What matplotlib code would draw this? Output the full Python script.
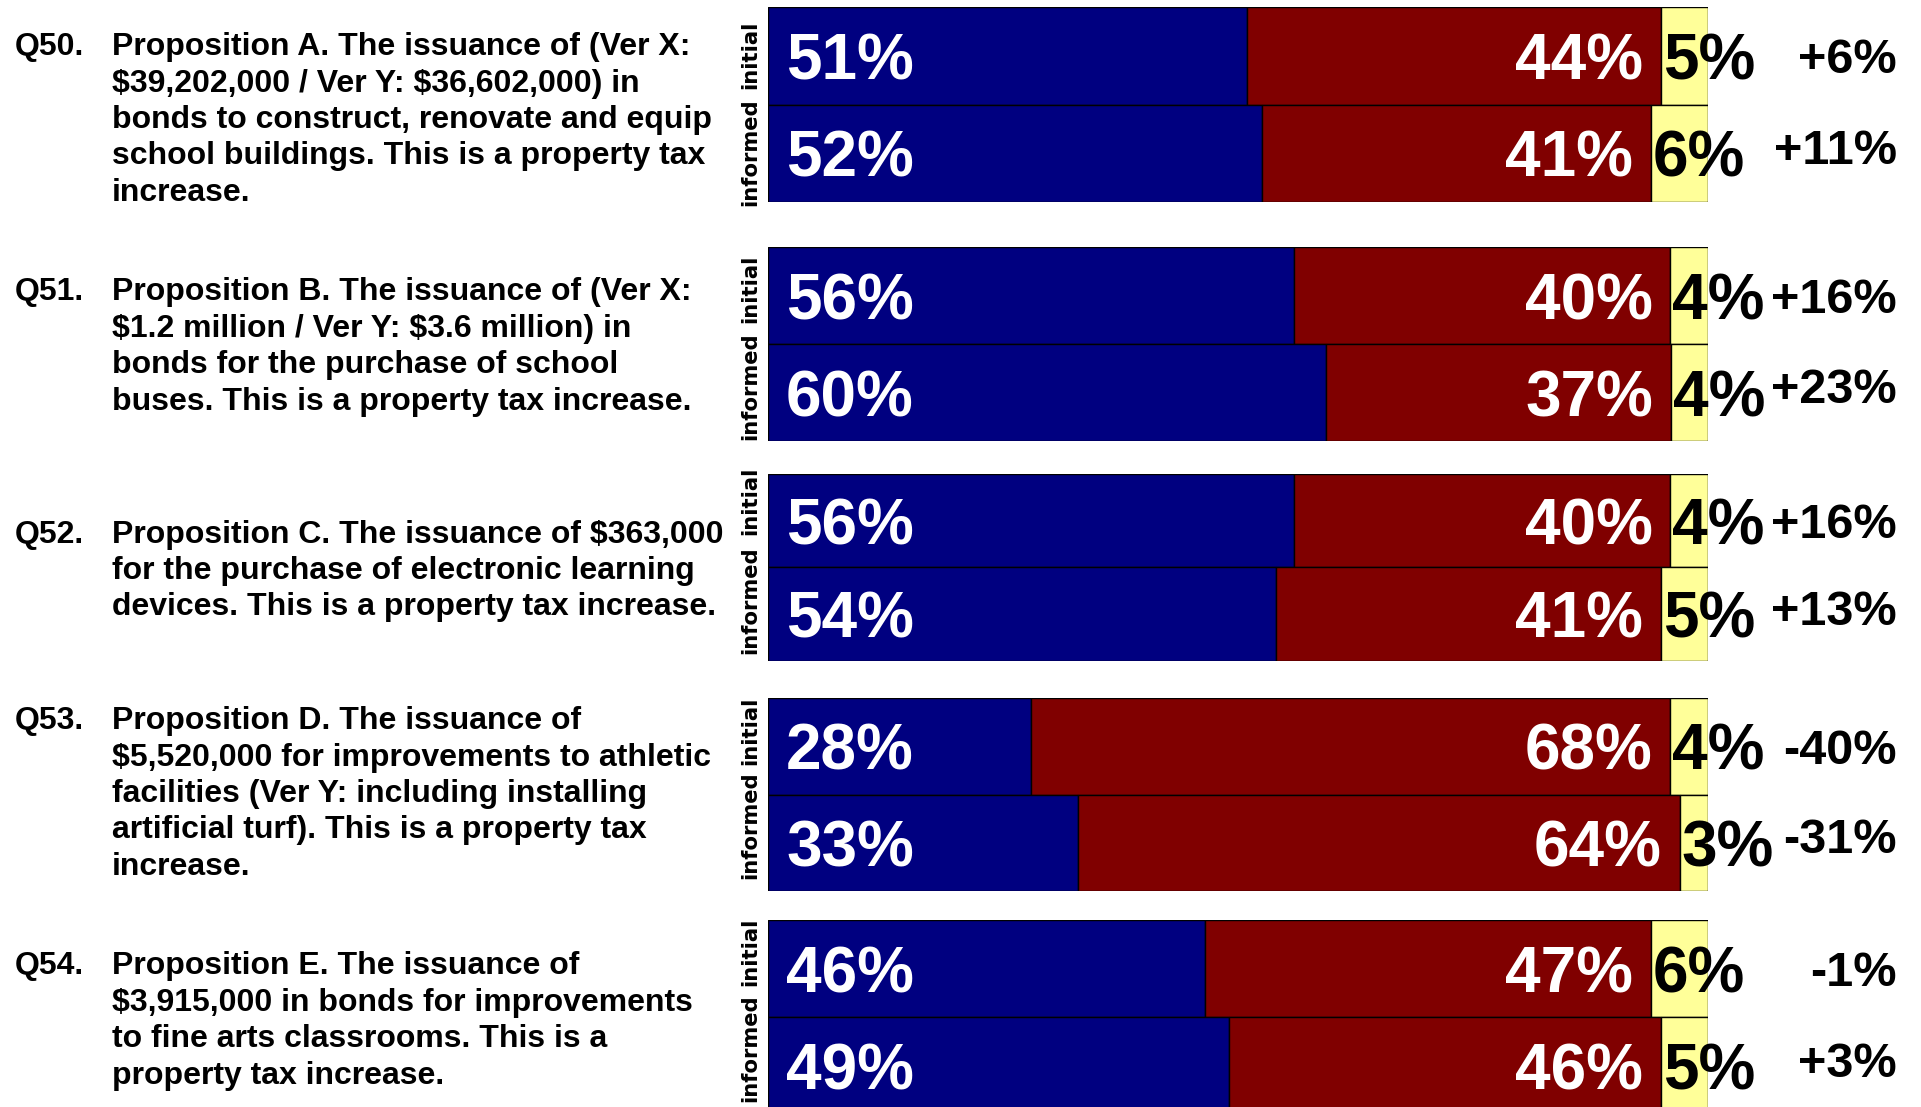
import matplotlib.pyplot as plt

# survey results, shown as rounded labels; bars are scaled so each row fills 100%
questions = ['Q50.', 'Q51.', 'Q52.', 'Q53.', 'Q54.']
prop_text = [
    'Proposition A. The issuance of (Ver X:\n$39,202,000 / Ver Y: $36,602,000) in\n'
    'bonds to construct, renovate and equip\nschool buildings. This is a property tax\nincrease.',
    'Proposition B. The issuance of (Ver X:\n$1.2 million / Ver Y: $3.6 million) in\n'
    'bonds for the purchase of school\nbuses. This is a property tax increase.',
    'Proposition C. The issuance of $363,000\nfor the purchase of electronic learning\n'
    'devices. This is a property tax increase.',
    'Proposition D. The issuance of\n$5,520,000 for improvements to athletic\n'
    'facilities (Ver Y: including installing\nartificial turf). This is a property tax\nincrease.',
    'Proposition E. The issuance of\n$3,915,000 in bonds for improvements\n'
    'to fine arts classrooms. This is a\nproperty tax increase.',
]
rows = ['initial', 'informed']

yes_init = [51, 56, 56, 28, 46]
no_init = [44, 40, 40, 68, 47]
und_init = [5, 4, 4, 4, 6]
yes_inf = [52, 60, 54, 33, 49]
no_inf = [41, 37, 41, 64, 46]
und_inf = [6, 4, 5, 3, 5]
diff_init = [6, 16, 16, -40, -1]
diff_inf = [11, 23, 13, -31, 3]

BLUE = '#000080'
RED = '#800000'
YELLOW = '#FFFF99'

# layout, in pixels from the top of the figure
W, H = 1921, 1107
group_top = [7, 247, 474, 698, 920]
group_bot = [202, 441, 661, 891, 1115]
text_mid = [120, 347, 571, 794, 1021]
row_label_mid = [(55, 152), (289, 386), (501, 600), (731, 825), (952, 1048)]
bar_left, bar_w = 768, 940

plt.rcParams['font.family'] = ['Liberation Sans', 'DejaVu Sans']
fig = plt.figure(figsize=(W / 100, H / 100), dpi=100)
fig.patch.set_facecolor('white')

inset = 18 / bar_w * 100

for i, q in enumerate(questions):
    top, bot = group_top[i], group_bot[i]
    ax = fig.add_axes([bar_left / W, 1 - bot / H, bar_w / W, (bot - top) / H])
    ax.set_xlim(0, 100)
    ax.set_ylim(2, 0)
    ax.axis('off')

    data = [(yes_init[i], no_init[i], und_init[i], diff_init[i]),
            (yes_inf[i], no_inf[i], und_inf[i], diff_inf[i])]
    for r, (yes, no, und, d) in enumerate(data):
        tot = yes + no + und
        y_w, n_w, u_w = yes / tot * 100, no / tot * 100, und / tot * 100
        yc = r + 0.5
        ax.barh(yc, y_w, height=1, left=0, color=BLUE, edgecolor='black', linewidth=1)
        ax.barh(yc, n_w, height=1, left=y_w, color=RED, edgecolor='black', linewidth=1)
        ax.barh(yc, u_w, height=1, left=y_w + n_w, color=YELLOW, edgecolor='black', linewidth=1)

        ax.text(inset, yc, f'{yes}%', color='white', fontsize=46, fontweight='bold',
                ha='left', va='center_baseline')
        ax.text(y_w + n_w - inset, yc, f'{no}%', color='white', fontsize=46, fontweight='bold',
                ha='right', va='center_baseline')
        ax.text(y_w + n_w + 0.2, yc, f'{und}%', color='black', fontsize=46, fontweight='bold',
                ha='left', va='center_baseline', clip_on=False)
        ax.text(1.201, yc - 0.07 * r, f'{d:+d}%', color='black', fontsize=35, fontweight='bold',
                ha='right', va='center_baseline', transform=ax.get_yaxis_transform(),
                clip_on=False)

        fig.text(750 / W, 1 - row_label_mid[i][r] / H, rows[r], rotation=90, fontsize=15.2,
                 fontweight='bold', family='DejaVu Sans', ha='center', va='center')

    # pad the question number with blank lines so it sits on the first text line
    n_lines = prop_text[i].count('\n') + 1
    mid = text_mid[i]
    fig.text(15 / W, 1 - mid / H, q + '\n ' * (n_lines - 1), fontsize=23, fontweight='bold',
             ha='left', va='center', linespacing=1.28)
    fig.text(112 / W, 1 - mid / H, prop_text[i], fontsize=23, fontweight='bold',
             ha='left', va='center', linespacing=1.28, parse_math=False)

fig.savefig('out.png', dpi=100, facecolor='white')
